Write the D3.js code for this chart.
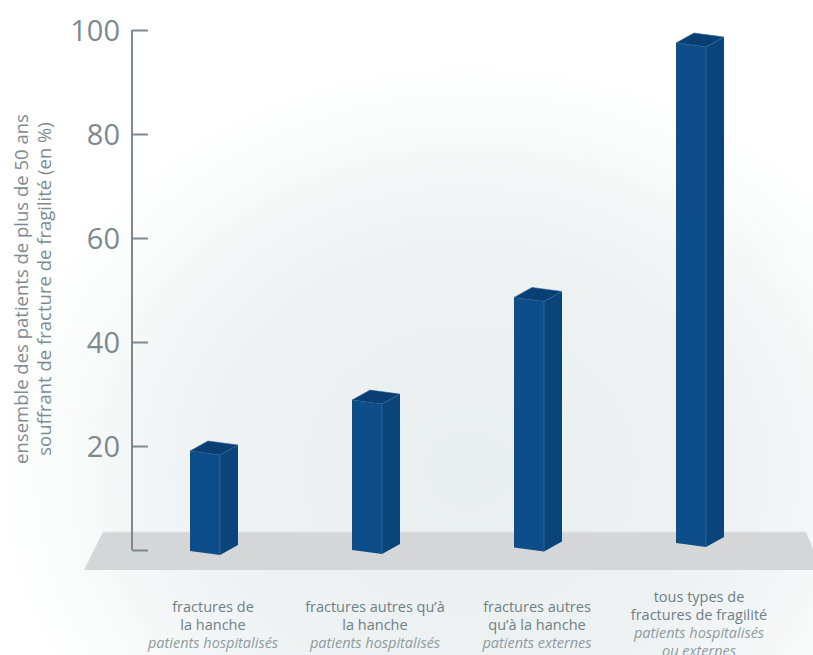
<!DOCTYPE html>
<html>
<head>
<meta charset="utf-8">
<title>Fractures de fragilité</title>
<style type="text/css">
body { margin:0; background:#fff; }
svg text { font-family:"Open Sans", sans-serif; }
.axis path, .axis line { stroke:#7b8a90; stroke-width:2; fill:none; }
.axis text { fill:#7b8a90; font-size:29px; font-family:"Open Sans", sans-serif; }
.ytitle { fill:#7d8c92; font-size:18.5px; }
.cat { fill:#6f7f86; font-size:14.5px; }
.cat .sub { fill:#8d9ba1; font-style:italic; }
</style>
</head>
<body>
<div id="chart"></div>
<script src="https://cdn.jsdelivr.net/npm/d3@7"></script>
<script>

var categories = ["hip_in", "nonhip_in", "nonhip_out", "all"];
var values = [20, 30, 50, 100];
var labelLines = [
	["fractures de", "la hanche"],
	["fractures autres qu\u2019à", "la hanche"],
	["fractures autres", "qu\u2019à la hanche"],
	["tous types de", "fractures de fragilité"]
];
var subLines = [
	["patients hospitalisés"],
	["patients hospitalisés"],
	["patients externes"],
	["patients hospitalisés", "ou externes"]
];
var yTicks = [0, 20, 40, 60, 80, 100];
var yTitle = ["ensemble des patients de plus de 50 ans", "souffrant de fracture de fragilité (en %)"];

var width = 813, height = 655;

var svg = d3.select("#chart").append("svg")
	.attr("width", width)
	.attr("height", height);

var defs = svg.append("defs");
var grad = defs.append("radialGradient")
	.attr("id", "bg")
	.attr("gradientUnits", "userSpaceOnUse")
	.attr("cx", 470).attr("cy", 470).attr("r", 430)
	.attr("gradientTransform", "translate(470,470) scale(1.1,0.95) translate(-470,-470)");
grad.append("stop").attr("offset", "0").attr("stop-color", "#e9eeee");
grad.append("stop").attr("offset", "0.55").attr("stop-color", "#eef2f2");
grad.append("stop").attr("offset", "1").attr("stop-color", "#ffffff");

svg.append("rect").attr("width", width).attr("height", height).attr("fill", "url(#bg)");

// floor
svg.append("path")
	.attr("d", "M103,532L806,532L822,570L84,570Z")
	.attr("fill", "#d5d6d8");
svg.append("line")
	.attr("x1", 103).attr("x2", 806).attr("y1", 532).attr("y2", 532)
	.attr("stroke", "#e1e2e4").attr("stroke-width", 1);

var y = d3.scaleLinear().domain([0, 100]).range([550, 30]);
// bars are drawn a touch shorter than the axis, as in the original
var h = d3.scaleLinear().domain([0, 100]).range([0, 500]);
var x = d3.scalePoint().domain(categories).range([205, 691]);

var barW = 30, depthX = 18, depthY = 10, slant = 4;

// axis
var axis = svg.append("g")
	.attr("class", "axis")
	.attr("transform", "translate(132,0)")
	.call(d3.axisRight(y).tickValues(yTicks).tickSize(16).tickSizeOuter(0).tickFormat(function(d){ return d === 0 ? "" : d; }));
axis.attr("font-family", null).attr("font-size", null);
axis.select(".domain").attr("d", "M0," + y(0) + "V" + y(100));
axis.selectAll(".tick text")
	.attr("x", -12)
	.attr("dy", "0.36em")
	.attr("text-anchor", "end");

// y title
var yt = svg.append("text")
	.attr("class", "ytitle")
	.attr("transform", "translate(0,289) rotate(-90)")
	.attr("text-anchor", "middle");
yTitle.forEach(function(t, i){
	yt.append("tspan").attr("x", 0).attr("y", 28 + i * 23).text(t);
});

// bars
function baseY(i){
	var t = (x(categories[i]) - x(categories[0])) / (x(categories[3]) - x(categories[0]));
	return 551 - 8 * t * t;
}

var bars = svg.selectAll(".bar")
	.data(values)
	.enter().append("g")
	.attr("class", "bar");

bars.append("path")
	.attr("fill", "#0b4479")
	.attr("d", function(d, i){
		var L = x(categories[i]) - barW / 2, b = baseY(i), hh = h(d), R = L + barW;
		return "M" + R + "," + (b + slant) + "L" + (R + depthX) + "," + (b + slant - depthY) +
			"L" + (R + depthX) + "," + (b + slant - depthY - hh) + "L" + R + "," + (b + slant - hh) + "Z";
	});

bars.append("path")
	.attr("fill", "#0a3f73")
	.attr("stroke", "#2c64a0").attr("stroke-width", 0.6)
	.attr("d", function(d, i){
		var L = x(categories[i]) - barW / 2, b = baseY(i), hh = h(d), R = L + barW;
		return "M" + L + "," + (b - hh) + "L" + R + "," + (b + slant - hh) +
			"L" + (R + depthX) + "," + (b + slant - depthY - hh) + "L" + (L + depthX) + "," + (b - depthY - hh) + "Z";
	});

bars.append("path")
	.attr("fill", "#0d4e8a")
	.attr("d", function(d, i){
		var L = x(categories[i]) - barW / 2, b = baseY(i), hh = h(d), R = L + barW;
		return "M" + L + "," + b + "L" + R + "," + (b + slant) +
			"L" + R + "," + (b + slant - hh) + "L" + L + "," + (b - hh) + "Z";
	});

bars.append("line")
	.attr("stroke", "#3a70a8").attr("stroke-width", 0.7)
	.attr("x1", function(d, i){ return x(categories[i]) + barW / 2; })
	.attr("x2", function(d, i){ return x(categories[i]) + barW / 2; })
	.attr("y1", function(d, i){ return baseY(i) + slant; })
	.attr("y2", function(d, i){ return baseY(i) + slant - h(d); });

// category labels
var cat = svg.selectAll(".cat")
	.data(categories)
	.enter().append("text")
	.attr("class", "cat")
	.attr("text-anchor", "middle")
	.attr("transform", function(d){ return "translate(" + (x(d) + 8) + ",0)"; });

cat.each(function(d, i){
	var t = d3.select(this);
	var top = labelLines[i].length + subLines[i].length > 3 ? 602 : 612;
	labelLines[i].concat(subLines[i]).forEach(function(line, j){
		t.append("tspan")
			.attr("x", 0)
			.attr("y", top + j * 18)
			.classed("sub", j >= labelLines[i].length)
			.text(line);
	});
});

</script>
</body>
</html>
